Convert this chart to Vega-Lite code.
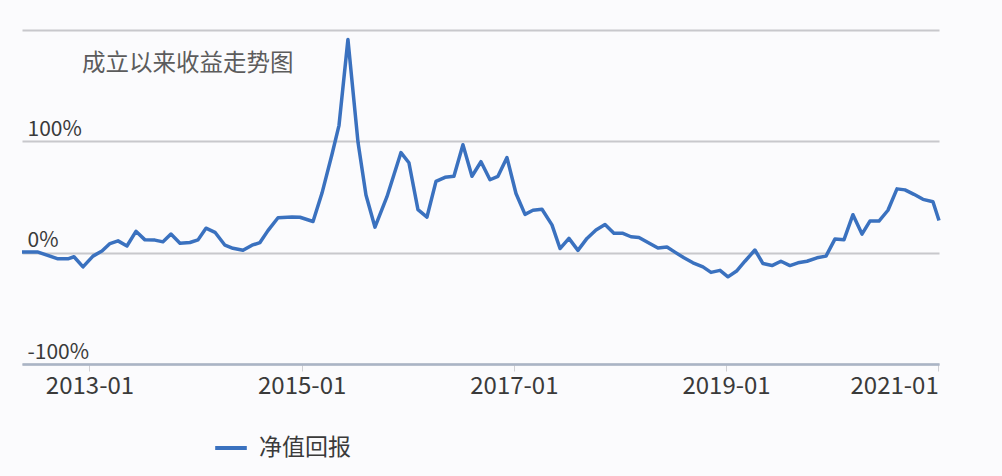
{
  "$schema": "https://vega.github.io/schema/vega-lite/v6.json",
  "width": 917,
  "height": 334,
  "autosize": {"type": "none"},
  "padding": {"left": 22, "top": 30, "right": 63, "bottom": 112},
  "background": "#fbfbfd",
  "title": {
    "text": "成立以来收益走势图",
    "anchor": "start",
    "frame": "group",
    "dx": 60,
    "offset": -45,
    "font": "Noto Sans CJK SC",
    "fontSize": 23.5,
    "fontWeight": "normal",
    "color": "#5c5c5c"
  },
  "config": {
    "font": "Noto Sans CJK SC",
    "view": {"stroke": null},
    "legend": {"padding": 0}
  },
  "data": {
    "values": [
      {"year": 2012.364, "ret": 0.5},
      {"year": 2012.515, "ret": 0.5},
      {"year": 2012.703, "ret": -5.5},
      {"year": 2012.797, "ret": -5.5},
      {"year": 2012.854, "ret": -3.7},
      {"year": 2012.939, "ret": -12.8},
      {"year": 2013.033, "ret": -3.1},
      {"year": 2013.118, "ret": 1.5},
      {"year": 2013.193, "ret": 8.2},
      {"year": 2013.269, "ret": 10.6},
      {"year": 2013.353, "ret": 6.0},
      {"year": 2013.438, "ret": 19.2},
      {"year": 2013.523, "ret": 11.5},
      {"year": 2013.617, "ret": 11.3},
      {"year": 2013.693, "ret": 9.7},
      {"year": 2013.768, "ret": 16.7},
      {"year": 2013.853, "ret": 8.5},
      {"year": 2013.947, "ret": 9.1},
      {"year": 2014.023, "ret": 11.5},
      {"year": 2014.098, "ret": 22.0},
      {"year": 2014.183, "ret": 18.3},
      {"year": 2014.277, "ret": 6.7},
      {"year": 2014.352, "ret": 3.9},
      {"year": 2014.447, "ret": 2.1},
      {"year": 2014.532, "ret": 6.7},
      {"year": 2014.607, "ret": 9.1},
      {"year": 2014.682, "ret": 19.8},
      {"year": 2014.777, "ret": 31.4},
      {"year": 2014.909, "ret": 32.0},
      {"year": 2014.984, "ret": 31.8},
      {"year": 2015.107, "ret": 28.0},
      {"year": 2015.191, "ret": 53.3},
      {"year": 2015.286, "ret": 88.4},
      {"year": 2015.352, "ret": 114.4},
      {"year": 2015.436, "ret": 191.5},
      {"year": 2015.531, "ret": 99.1},
      {"year": 2015.606, "ret": 51.8},
      {"year": 2015.691, "ret": 22.9},
      {"year": 2015.804, "ret": 50.3},
      {"year": 2015.936, "ret": 89.9},
      {"year": 2016.011, "ret": 80.8},
      {"year": 2016.096, "ret": 38.7},
      {"year": 2016.181, "ret": 32.0},
      {"year": 2016.266, "ret": 64.0},
      {"year": 2016.351, "ret": 67.7},
      {"year": 2016.435, "ret": 68.6},
      {"year": 2016.52, "ret": 97.0},
      {"year": 2016.605, "ret": 68.6},
      {"year": 2016.69, "ret": 81.7},
      {"year": 2016.775, "ret": 65.5},
      {"year": 2016.85, "ret": 68.6},
      {"year": 2016.935, "ret": 85.4},
      {"year": 2017.02, "ret": 53.1},
      {"year": 2017.105, "ret": 34.4},
      {"year": 2017.18, "ret": 38.1},
      {"year": 2017.265, "ret": 39.0},
      {"year": 2017.359, "ret": 25.0},
      {"year": 2017.435, "ret": 3.7},
      {"year": 2017.519, "ret": 12.8},
      {"year": 2017.604, "ret": 2.1},
      {"year": 2017.689, "ret": 12.8},
      {"year": 2017.774, "ret": 20.4},
      {"year": 2017.859, "ret": 25.3},
      {"year": 2017.943, "ret": 17.4},
      {"year": 2018.028, "ret": 17.4},
      {"year": 2018.104, "ret": 14.3},
      {"year": 2018.179, "ret": 13.7},
      {"year": 2018.264, "ret": 9.1},
      {"year": 2018.358, "ret": 4.2},
      {"year": 2018.443, "ret": 5.1},
      {"year": 2018.518, "ret": 0.5},
      {"year": 2018.603, "ret": -4.6},
      {"year": 2018.688, "ret": -9.1},
      {"year": 2018.782, "ret": -12.8},
      {"year": 2018.858, "ret": -17.7},
      {"year": 2018.943, "ret": -15.9},
      {"year": 2019.018, "ret": -21.7},
      {"year": 2019.103, "ret": -16.2},
      {"year": 2019.178, "ret": -7.7},
      {"year": 2019.272, "ret": 2.4},
      {"year": 2019.348, "ret": -9.8},
      {"year": 2019.433, "ret": -11.6},
      {"year": 2019.517, "ret": -7.7},
      {"year": 2019.602, "ret": -11.6},
      {"year": 2019.678, "ret": -9.1},
      {"year": 2019.763, "ret": -7.7},
      {"year": 2019.857, "ret": -4.6},
      {"year": 2019.942, "ret": -3.1},
      {"year": 2020.026, "ret": 12.2},
      {"year": 2020.111, "ret": 11.5},
      {"year": 2020.196, "ret": 34.1},
      {"year": 2020.281, "ret": 16.7},
      {"year": 2020.356, "ret": 28.4},
      {"year": 2020.441, "ret": 28.4},
      {"year": 2020.526, "ret": 38.1},
      {"year": 2020.611, "ret": 57.3},
      {"year": 2020.686, "ret": 56.4},
      {"year": 2020.771, "ret": 52.4},
      {"year": 2020.856, "ret": 47.9},
      {"year": 2020.95, "ret": 45.7},
      {"year": 2021.007, "ret": 28.9}
    ]
  },
  "mark": {"type": "line", "strokeWidth": 3.5, "strokeJoin": "round"},
  "encoding": {
    "x": {
      "field": "year",
      "type": "quantitative",
      "scale": {"domain": [2012.364, 2021.007], "nice": false, "zero": false},
      "axis": {
        "title": null,
        "values": [2013, 2015, 2017, 2019, 2021],
        "labelExpr": "datum.value + '-01'",
        "grid": false,
        "domainColor": "#aab4c6",
        "domainWidth": 2.5,
        "tickColor": "#d0d0d4",
        "tickSize": 7,
        "tickWidth": 1,
        "labelPadding": 3,
        "labelFlush": 6,
        "labelFontSize": 24,
        "labelColor": "#3a3a3a"
      }
    },
    "y": {
      "field": "ret",
      "type": "quantitative",
      "scale": {"domain": [-100, 200], "nice": false},
      "axis": {
        "title": null,
        "values": [-100, 0, 100, 200],
        "labelExpr": "datum.value == 200 ? '' : datum.value + '%'",
        "domain": false,
        "ticks": false,
        "tickSize": 0,
        "gridColor": "#c8c8cc",
        "gridWidth": 2,
        "labelAlign": "left",
        "labelBaseline": "alphabetic",
        "labelPadding": -5,
        "labelOffset": -6,
        "labelFontSize": 21,
        "labelColor": "#3a3a3a"
      }
    },
    "color": {
      "datum": "净值回报",
      "scale": {"range": ["#3a71bf"]},
      "legend": {
        "title": null,
        "orient": "none",
        "legendX": 191,
        "legendY": 400,
        "symbolType": "stroke",
        "symbolSize": 1000,
        "symbolStrokeWidth": 4,
        "labelFontSize": 23,
        "labelColor": "#3a3a3a",
        "labelOffset": 10
      }
    }
  }
}
